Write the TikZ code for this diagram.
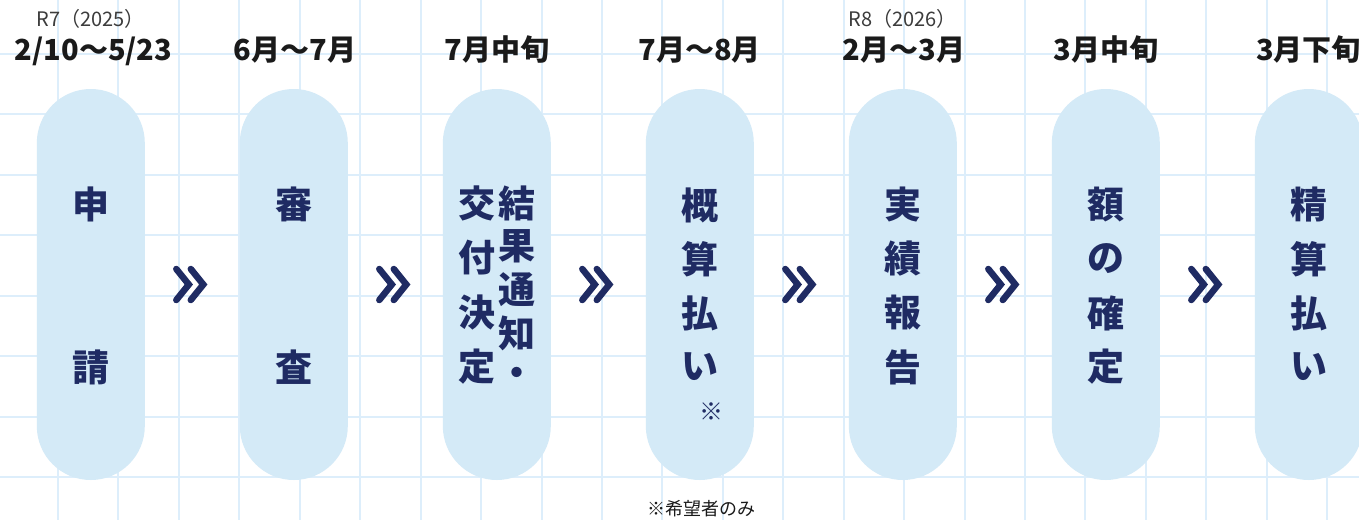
\documentclass[tikz,border=0pt]{standalone}
\usepackage{fontspec}
\setmainfont{Noto Sans CJK JP}
\usetikzlibrary{calc}
\definecolor{gridc}{HTML}{DDEEFB}
\definecolor{pillc}{HTML}{D4EAF7}
\definecolor{navy}{HTML}{1F2B63}
\definecolor{ink}{HTML}{1A1A1A}
\begin{document}
\begin{tikzpicture}[x=1pt,y=-1pt,
  gridline/.style={gridc, line width=2pt},
  pill/.style={fill=pillc, rounded corners=54pt, minimum width=108pt, minimum height=391pt, inner sep=0pt, draw=none},
  ptxt/.style={text=navy, font=\fontsize{37}{37}\selectfont\bfseries, inner sep=0pt},
  datelbl/.style={text=ink, font=\fontsize{29}{29}\selectfont\bfseries, inner sep=0pt, anchor=base},
  eralbl/.style={text=ink!85, font=\fontsize{20}{20}\selectfont, inner sep=0pt, anchor=base},
  notelbl/.style={text=ink, font=\fontsize{18}{18}\selectfont, inner sep=0pt},
  chev/.style={draw=navy, line width=6.5pt, line cap=round, line join=miter}]
\useasboundingbox (0,0) rectangle (1359,520);
\fill[white] (0,0) rectangle (1359,520);
\foreach \k in {0,...,21} \draw[gridline] ({58+60.44*\k},0) -- ({58+60.44*\k},520);
\foreach \k in {0,...,7} \draw[gridline] (0,{53.5+60.5*\k}) -- (1359,{53.5+60.5*\k});
% pills
\foreach \i in {1,...,7} \node[pill] (p\i) at ({90.8+203*(\i-1)},284.5) {};
% chevrons
\foreach \i [evaluate=\i as \j using int(\i+1)] in {1,...,6} {
  \coordinate (c\i) at ($(p\i.east)!0.5!(p\j.west)$);
  \draw[chev] ($(c\i)+(-16,-15.5)$) -- ($(c\i)+(-3.5,0)$) -- ($(c\i)+(-16,15.5)$);
  \draw[chev] ($(c\i)+(-1.5,-15.5)$) -- ($(c\i)+(11,0)$) -- ($(c\i)+(-1.5,15.5)$);
}
% date labels
\node[eralbl] (e1) at (90.8,26.5) {R7（2025）};
\node[eralbl] (e5) at (902.8,26.5) {R8（2026）};
\node[datelbl] (d1) at (93.5,60) {2/10〜5/23};
\node[datelbl] (d2) at (295,60) {6月〜7月};
\node[datelbl] (d3) at (496.8,60) {7月中旬};
\node[datelbl] (d4) at (699.8,60) {7月〜8月};
\node[datelbl] (d5) at (904,60) {2月〜3月};
\node[datelbl] (d6) at (1105.8,60) {3月中旬};
\node[datelbl] (d7) at (1308.5,60) {3月下旬};
% pill texts
\node[ptxt] (t1a) at (90.8,204) {申};
\node[ptxt] (t1b) at (90.8,367) {請};
\node[ptxt] (t2a) at (293.8,204) {審};
\node[ptxt] (t2b) at (293.8,367) {査};
\foreach \c [count=\n] in {結,果,通,知,・}
  \node[ptxt] (t3r\n) at (517,{203+43.5*(\n-1)}) {\c};
\foreach \c [count=\n] in {交,付,決,定}
  \node[ptxt] (t3l\n) at (477,{203+54.67*(\n-1)}) {\c};
\foreach \c [count=\n] in {概,算,払,い}
  \node[ptxt] (t4\n) at (699.8,{205+54*(\n-1)}) {\c};
\foreach \c [count=\n] in {実,績,報,告}
  \node[ptxt] (t5\n) at (902.8,{205+54*(\n-1)}) {\c};
\foreach \c [count=\n] in {額,の,確,定}
  \node[ptxt] (t6\n) at (1105.8,{205+54*(\n-1)}) {\c};
\foreach \c [count=\n] in {精,算,払,い}
  \node[ptxt] (t7\n) at (1308.8,{205+54*(\n-1)}) {\c};
\node[text=navy, font=\fontsize{24}{24}\selectfont, inner sep=0pt] (mark) at (711,412) {※};
\node[notelbl] (note) at (701,509) {※希望者のみ};
\end{tikzpicture}
\end{document}
